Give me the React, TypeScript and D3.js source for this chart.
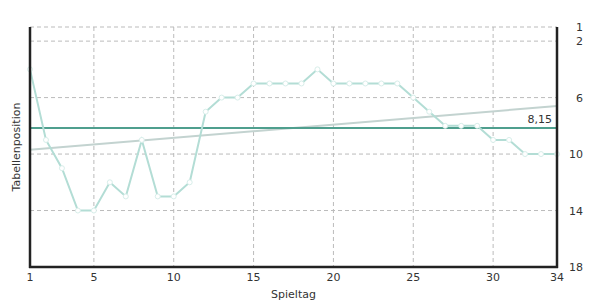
import React from "react";
import * as d3 from "d3";

const matchdays: number[] = Array.from({ length: 34 }, (_, i) => i + 1);
const positions: number[] = [4, 9, 11, 14, 14, 12, 13, 9, 13, 13, 12, 7, 6, 6, 5, 5, 5, 5, 4, 5, 5, 5, 5, 5, 6, 7, 8, 8, 8, 9, 9, 10, 10, 10];
const xTicks: number[] = [1, 5, 10, 15, 20, 25, 30, 34];
const xGrid: number[] = [5, 10, 15, 20, 25, 30];
const yTicks: number[] = [1, 2, 6, 10, 14, 18];
const yGrid: number[] = [1, 2, 6, 10, 14];

const W = 595, H = 303;
const L = 30, R = 557, T = 27, B = 267;

export default function App() {
  const x = d3.scaleLinear().domain([1, 34]).range([L, R]);
  const y = d3.scaleLinear().domain([1, 18]).range([T, B]);
  const avg = d3.mean(positions) as number;
  const mx = d3.mean(matchdays) as number;
  let num = 0, den = 0;
  matchdays.forEach((m, i) => { num += (m - mx) * (positions[i] - avg); den += (m - mx) ** 2; });
  const slope = num / den;
  const icpt = avg - slope * mx;
  const line = d3.line<number>().x((_, i) => x(matchdays[i])).y((d) => y(d));
  const font = "'DejaVu Sans', Verdana, sans-serif";
  const txt = "#333";
  return (
    <svg width={W} height={H} style={{ position: "absolute", left: 0, top: 0 }} fontFamily={font}>
      <rect width={W} height={H} fill="#fff" />
      {xGrid.map((v) => (
        <line key={"xg" + v} x1={x(v)} x2={x(v)} y1={T} y2={B} stroke="#bbb" strokeDasharray="4,3" />
      ))}
      {yGrid.map((v) => (
        <line key={"yg" + v} x1={L} x2={R} y1={y(v)} y2={y(v)} stroke="#bbb" strokeDasharray="4,3" />
      ))}
      <line x1={x(1)} x2={x(34)} y1={y(icpt + slope * 1)} y2={y(icpt + slope * 34)} stroke="#c3d3d0" strokeWidth={2} />
      <line x1={L} x2={R} y1={y(avg)} y2={y(avg)} stroke="#4f9f8e" strokeWidth={2} />
      <path d={line(positions) || ""} fill="none" stroke="#b3ddd5" strokeWidth={2} />
      {positions.map((p, i) => (
        <circle key={"c" + i} cx={x(matchdays[i])} cy={y(p)} r={2.5} fill="#fff" stroke="#d8eeea" strokeWidth={1} />
      ))}
      <line x1={L} x2={L} y1={T} y2={B + 1} stroke="#222" strokeWidth={2.5} />
      <line x1={R} x2={R} y1={T} y2={B + 1} stroke="#222" strokeWidth={2.5} />
      <line x1={L - 1} x2={R + 1} y1={B} y2={B} stroke="#222" strokeWidth={2.5} />
      <text x={R - 5} y={y(avg) - 5} textAnchor="end" fontSize={11} fill={txt}>{avg.toFixed(2).replace(".", ",")}</text>
      {xTicks.map((v) => (
        <text key={"xt" + v} x={x(v)} y={281} textAnchor="middle" fontSize={11} fill={txt}>{v}</text>
      ))}
      {yTicks.map((v) => (
        <text key={"yt" + v} x={583} y={y(v) + 4} textAnchor="end" fontSize={11} fill={txt}>{v}</text>
      ))}
      <text x={(L + R) / 2} y={298} textAnchor="middle" fontSize={11} fill={txt}>Spieltag</text>
      <text transform={`translate(20,${(T + B) / 2}) rotate(-90)`} textAnchor="middle" fontSize={11} fill={txt}>Tabellenposition</text>
    </svg>
  );
}
